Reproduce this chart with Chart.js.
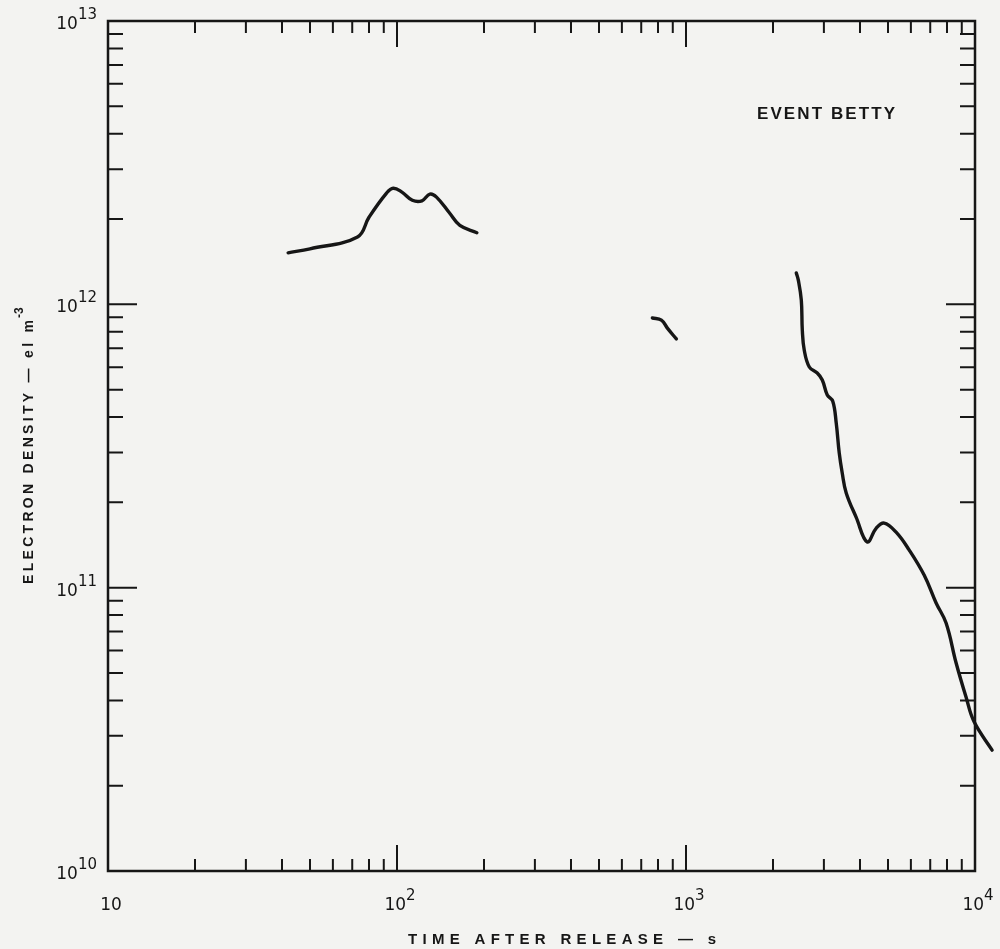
<!DOCTYPE html>
<html>
<head>
<meta charset="utf-8">
<title>Event Betty</title>
<script src="https://cdn.jsdelivr.net/npm/chart.js@4.4.1/dist/chart.umd.min.js"></script>
<style>
  html, body { margin: 0; padding: 0; background: #f3f3f1; }
  #wrap { width: 1000px; height: 949px; }
</style>
</head>
<body>
<div id="wrap"><canvas id="chart" width="1000" height="949"></canvas></div>
<script>
// --- data (time in s, density in el m^-3) ---
const earlyTime = [42, 50, 73, 80, 92, 97, 104, 113, 122, 130, 137, 152, 165, 189];
const earlyDensity = [1.52e12, 1.57e12, 1.73e12, 2.03e12, 2.47e12, 2.57e12, 2.49e12, 2.33e12, 2.32e12, 2.45e12, 2.39e12, 2.10e12, 1.90e12, 1.79e12];

const midTime = [765, 822, 862, 926];
const midDensity = [8.95e11, 8.8e11, 8.24e11, 7.55e11];

const lateTime = [2408, 2446, 2506, 2526, 2565, 2671, 2845, 2962, 3082, 3220, 3311, 3390, 3472, 3584, 3881,
  4236, 4549, 4851, 5333, 5915, 6668, 7336, 7943, 8604, 9311, 9931, 11460];
const lateDensity = [1.29e12, 1.22e12, 1.035e12, 8.11e11, 6.9e11, 6.01e11, 5.72e11, 5.41e11, 4.79e11, 4.55e11, 3.8e11, 2.99e11, 2.54e11, 2.16e11, 1.77e11,
  1.45e11, 1.62e11, 1.69e11, 1.57e11, 1.36e11, 1.108e11, 8.83e10, 7.5e10, 5.42e10, 4.11e10, 3.36e10, 2.67e10];

// decade exponents that carry labels
const xDecades = [1, 2, 3, 4];
const xTickLabels = ['10', '10|2', '10|3', '10|4'];
const yDecades = [10, 11, 12, 13];
const yTickLabels = ['10|10', '10|11', '10|12', '10|13'];

const FONT = '"DejaVu Sans", Verdana, sans-serif';
const TITLE_FONT = '"Liberation Sans", Arial, Helvetica, sans-serif';
const INK = '#161616';

function pts(xs, ys) {
  return xs.map((x, i) => ({ x: x, y: ys[i] }));
}

function lineSet(xs, ys) {
  return {
    data: pts(xs, ys),
    borderColor: INK,
    borderWidth: 3.4,
    pointRadius: 0,
    tension: 0.4,
    borderCapStyle: 'round',
    borderJoinStyle: 'round',
    fill: false,
    clip: false
  };
}

// label like "10|12" -> base "10" with superscript "12"
function drawPower(ctx, label, x, y, align) {
  const parts = label.split('|');
  ctx.font = '17px ' + FONT;
  const wb = ctx.measureText(parts[0]).width;
  let ws = 0;
  if (parts[1]) {
    ctx.font = '15px ' + FONT;
    ws = ctx.measureText(parts[1]).width;
  }
  let left = x;
  if (align === 'right') left = x - wb - ws;
  if (align === 'center') left = x - (wb + ws) / 2;
  ctx.textAlign = 'left';
  ctx.textBaseline = 'alphabetic';
  ctx.font = '17px ' + FONT;
  ctx.fillText(parts[0], left, y);
  if (parts[1]) {
    ctx.font = '15px ' + FONT;
    ctx.fillText(parts[1], left + wb, y - 10);
  }
}

// write text spread out to a given width
function fitText(ctx, text, x, y, width) {
  ctx.letterSpacing = '0px';
  const w = ctx.measureText(text).width;
  const gap = Math.max(0, (width - w) / (text.length - 1));
  ctx.letterSpacing = gap + 'px';
  ctx.textAlign = 'left';
  ctx.fillText(text, x, y);
  ctx.letterSpacing = '0px';
}

const framePlugin = {
  id: 'frame',
  beforeDatasetsDraw(chart) {
    const ctx = chart.ctx;
    const a = chart.chartArea;
    const xs = chart.scales.x;
    const ys = chart.scales.y;
    ctx.save();
    ctx.strokeStyle = INK;
    ctx.lineWidth = 2.5;
    ctx.strokeRect(a.left, a.top, a.right - a.left, a.bottom - a.top);

    ctx.lineWidth = 2;
    ctx.beginPath();
    // x ticks, bottom and top, pointing inward
    for (let d = xDecades[0]; d <= xDecades[xDecades.length - 1]; d++) {
      for (let k = 1; k <= 9; k++) {
        const v = k * Math.pow(10, d);
        if (v > xs.max) break;
        const px = xs.getPixelForValue(v);
        const len = k === 1 ? 26 : 12;
        ctx.moveTo(px, a.bottom);
        ctx.lineTo(px, a.bottom - len);
        ctx.moveTo(px, a.top);
        ctx.lineTo(px, a.top + len);
      }
    }
    // y ticks, left and right
    for (let d = yDecades[0]; d <= yDecades[yDecades.length - 1]; d++) {
      for (let k = 1; k <= 9; k++) {
        const v = k * Math.pow(10, d);
        if (v > ys.max) break;
        const py = ys.getPixelForValue(v);
        const len = k === 1 ? 29 : 15;
        ctx.moveTo(a.left, py);
        ctx.lineTo(a.left + len, py);
        ctx.moveTo(a.right, py);
        ctx.lineTo(a.right - len, py);
      }
    }
    ctx.stroke();

    // tick labels
    ctx.fillStyle = INK;
    xDecades.forEach((d, i) => {
      drawPower(ctx, xTickLabels[i], xs.getPixelForValue(Math.pow(10, d)) + 3, a.bottom + 39, 'center');
    });
    yDecades.forEach((d, i) => {
      drawPower(ctx, yTickLabels[i], a.left - 11, ys.getPixelForValue(Math.pow(10, d)) + 8, 'right');
    });

    // axis titles
    ctx.font = 'bold 15px ' + TITLE_FONT;
    fitText(ctx, 'TIME AFTER RELEASE \u2014 s', 408, 944, 308);

    ctx.save();
    ctx.translate(33, 584);
    ctx.rotate(-Math.PI / 2);
    ctx.font = 'bold 14px ' + TITLE_FONT;
    fitText(ctx, 'ELECTRON DENSITY \u2014 el m', 0, 0, 264);
    ctx.font = 'bold 12px ' + TITLE_FONT;
    ctx.fillText('-3', 266, -10);
    ctx.restore();

    ctx.font = 'bold 17px ' + TITLE_FONT;
    fitText(ctx, 'EVENT BETTY', 757, 119, 138);
    ctx.restore();
  }
};

new Chart(document.getElementById('chart'), {
  type: 'line',
  data: {
    datasets: [
      lineSet(earlyTime, earlyDensity),
      lineSet(midTime, midDensity),
      lineSet(lateTime, lateDensity)
    ]
  },
  options: {
    responsive: false,
    animation: false,
    layout: { padding: { left: 108, right: 25, top: 21, bottom: 78 } },
    plugins: {
      legend: { display: false },
      tooltip: { enabled: false }
    },
    scales: {
      x: { type: 'logarithmic', min: 10, max: 10000, display: false },
      y: { type: 'logarithmic', min: 1e10, max: 1e13, display: false }
    }
  },
  plugins: [framePlugin]
});
</script>
</body>
</html>
